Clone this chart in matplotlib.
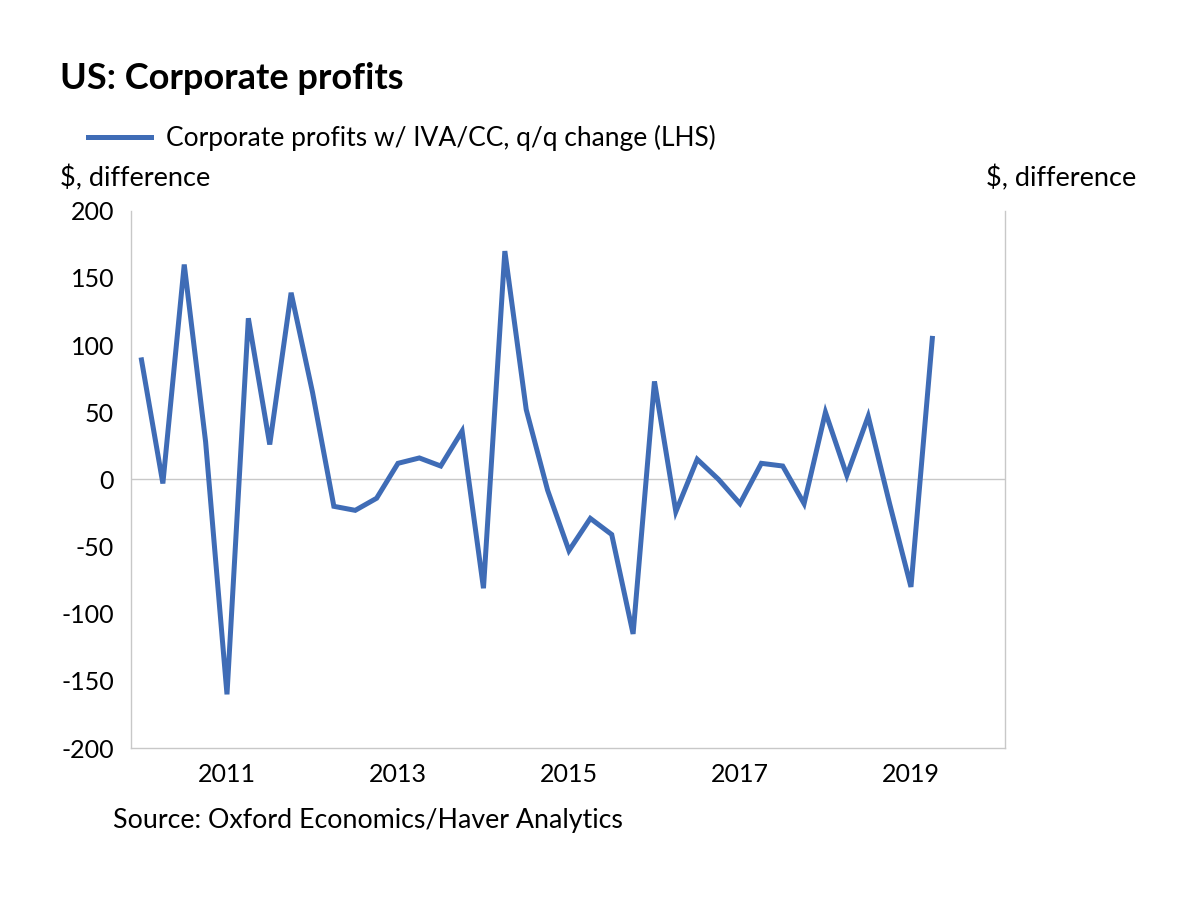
import matplotlib
matplotlib.use("Agg")
from matplotlib import pyplot as plt
import numpy as np

plt.rcParams["font.family"] = ["Lato", "DejaVu Sans"]

# Quartalswerte 2010Q1 .. 2019Q2
quarters = [f"{y}Q{q}" for y in range(2010, 2020) for q in range(1, 5)][:38]
profits_change = [89, -3, 160, 28, -160, 120, 26, 139, 65, -20,
                  -23, -14, 12, 16, 10, 36, -81, 170, 52, -8,
                  -53, -29, -41, -115, 73, -24, 15, 0, -18, 12,
                  10, -18, 50, 3, 47, -18, -80, 105]
year_labels = ["2011", "2013", "2015", "2017", "2019"]
y_ticks = [-200, -150, -100, -50, 0, 50, 100, 150, 200]

x = np.arange(len(profits_change))
tick_pos = [quarters.index(y + "Q1") for y in year_labels]

fig = plt.figure(figsize=(12, 8.97), dpi=100)
ax = fig.add_axes([0.109, 0.166, 0.7285, 0.599])

ax.axhline(0, color="#c8c8c8", lw=1, zorder=1)
line, = ax.plot(x, profits_change, color="#3f6cb6", lw=3.6,
                solid_joinstyle="miter", zorder=3,
                label="Corporate profits w/ IVA/CC, q/q change (LHS)")

ax.set_xlim(-0.5, 40.4)
ax.set_ylim(-200, 200)
ax.set_yticks(y_ticks)
ax.set_yticklabels([str(v) for v in y_ticks])
ax.set_xticks(tick_pos)
ax.set_xticklabels(year_labels)
ax.tick_params(length=0, labelsize=18, colors="black")
ax.tick_params(axis="y", pad=12)
ax.tick_params(axis="x", pad=11)

for s in ["left", "bottom", "right"]:
    ax.spines[s].set_color("#c8c8c8")
    ax.spines[s].set_linewidth(1)
ax.spines["top"].set_visible(False)

fig.text(0.05, 0.913, "US: Corporate profits", fontsize=26, fontweight="bold",
         va="center", ha="left")
fig.legend(handles=[line], loc="center left", bbox_to_anchor=(0.0733, 0.846),
           frameon=False, fontsize=19, handlelength=2.4, handletextpad=0.55,
           borderpad=0, borderaxespad=0)
fig.text(0.05, 0.801, "$, difference", fontsize=19.5, va="center", ha="left")
fig.text(0.947, 0.801, "$, difference", fontsize=19.5, va="center", ha="right")
fig.text(0.094, 0.085, "Source: Oxford Economics/Haver Analytics", fontsize=19.3,
         va="center", ha="left")

plt.savefig("out.png", dpi=100)
